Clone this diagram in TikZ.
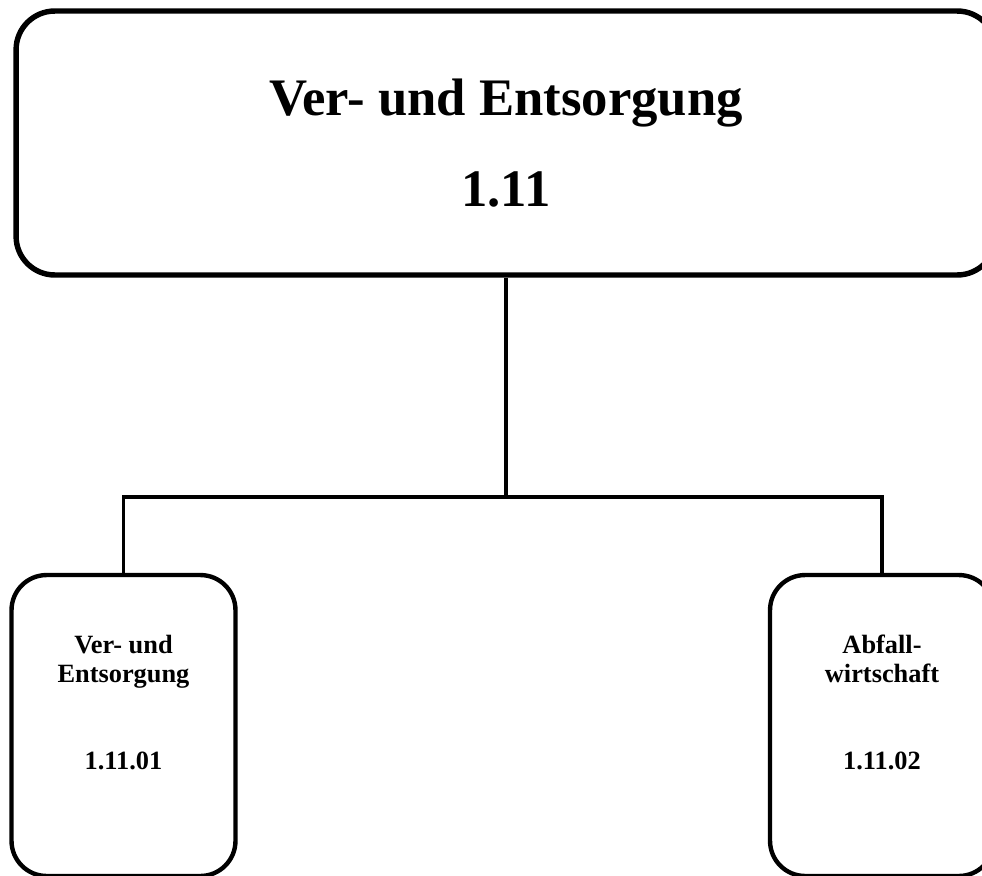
\documentclass[tikz,border=0pt]{standalone}
\usepackage{fontspec}
\setmainfont{Liberation Serif}
\usetikzlibrary{positioning}
\tikzset{
  mainbox/.style = {rectangle, draw, line width=3.1pt, rounded corners=22pt,
                    minimum width=19.6cm, minimum height=5.28cm, align=center,
                    font=\fontsize{30}{51.6}\selectfont\bfseries},
  subbox/.style  = {rectangle, draw, line width=2.5pt, rounded corners=20pt,
                    minimum width=4.48cm, minimum height=6.02cm},
  subtext/.style = {align=center, font=\fontsize{15}{16.4}\selectfont\bfseries},
  link/.style    = {line width=2pt},
}

\begin{document}
\begin{tikzpicture}[x=0.02cm, y=-0.02cm]

    \useasboundingbox (0,0) rectangle (982,875);

    %% Main box
    \node[mainbox] (top) at (506,143) {Ver- und Entsorgung\\1.11};

    %% Sub boxes
    \node[subbox] (sub1) at (123.5,725.5) {};
    \node[subbox] (sub2) at (882,725.5) {};
    \node[subtext, yshift=13pt] (sub1txt) at (sub1.center) {Ver- und\\Entsorgung\\[33.4pt]1.11.01};
    \node[subtext, yshift=13pt] (sub2txt) at (sub2.center) {Abfall-\\wirtschaft\\[33.4pt]1.11.02};

    %% Connectors
    \coordinate (hub) at (top.south |- 0,497);
    \draw[link] (top.south) -- (hub);
    \draw[link] (sub1.north) |- (hub) -| (sub2.north);

\end{tikzpicture}
\end{document}
